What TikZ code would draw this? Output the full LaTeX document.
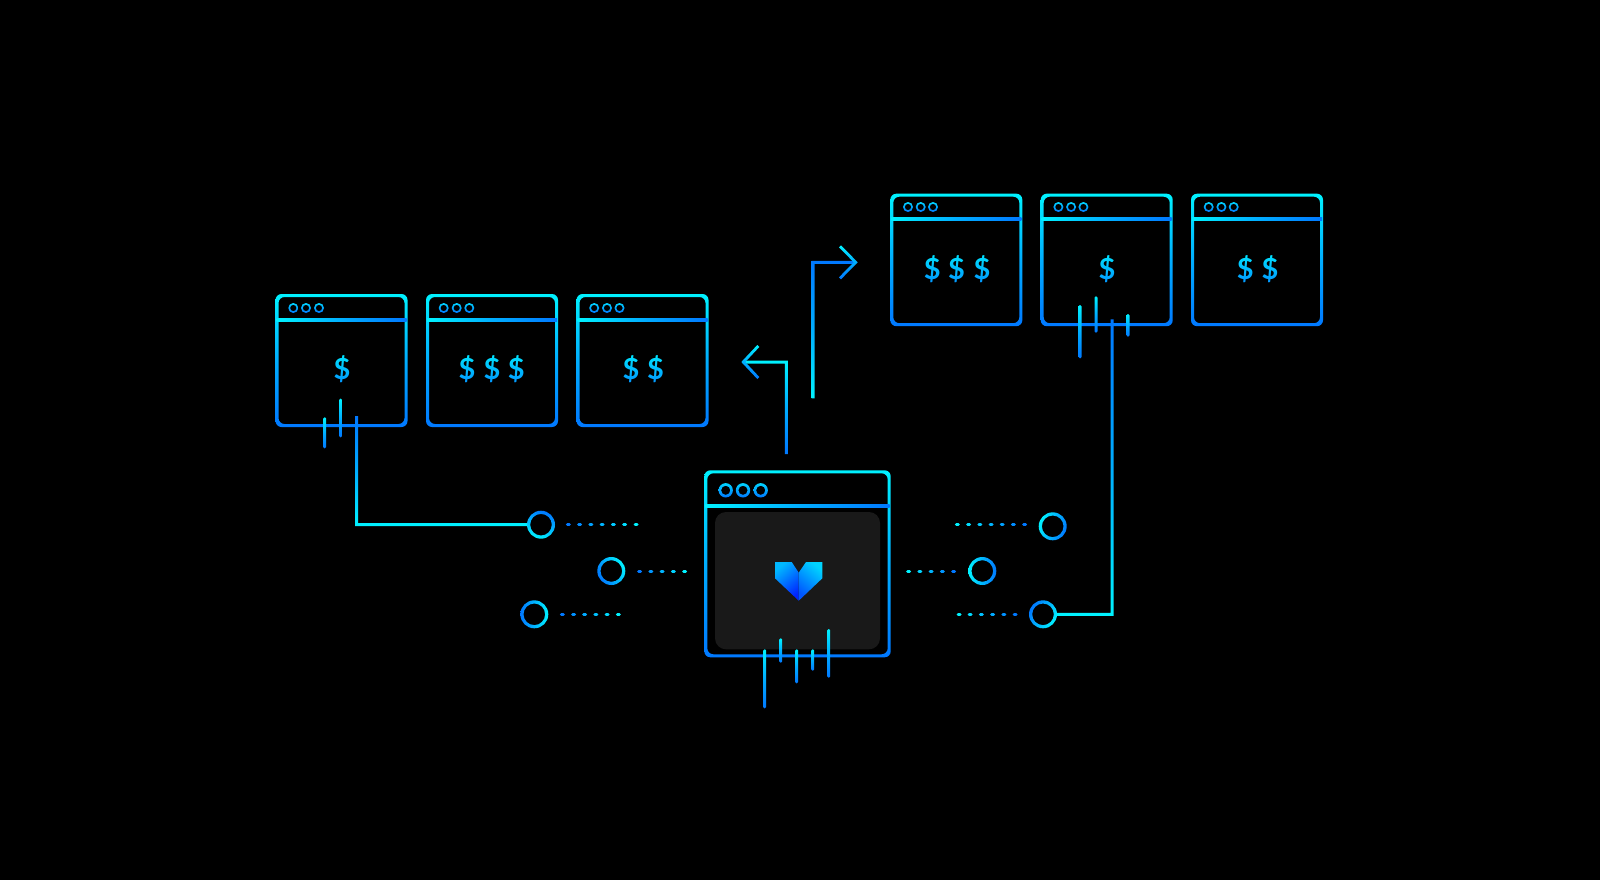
\documentclass[tikz,border=0pt]{standalone}
\usepackage{fontspec}
\setmainfont{Lato}
\usetikzlibrary{calc}
\definecolor{cy}{HTML}{00F2FF}
\definecolor{bl}{HTML}{0078FF}
\definecolor{midc}{HTML}{00AEFF}
\definecolor{panel}{HTML}{191919}
\definecolor{dtop}{HTML}{00E6FF}
\definecolor{dbot}{HTML}{0090FF}
\tikzset{
  anchorbox/.style={rectangle,inner sep=0pt,outer sep=0pt},
  ringanchor/.style={circle,inner sep=0pt,outer sep=0pt,minimum size=28pt},
  vgrad/.style={top color=cy,bottom color=bl,middle color=midc},
  vgradup/.style={top color=bl,bottom color=cy,middle color=midc},
  hgrad/.style={left color=cy,right color=bl,middle color=midc},
  dollar/.style={text=white,font=\bfseries\fontsize{29}{29}\selectfont,inner sep=0pt,anchor=center},
  dollarshade/.style={top color=dtop,bottom color=dbot},
}
% window: name, left, top, width, height, title y offset, stroke
\newcommand{\winbox}[7]{%
  \node[anchorbox,minimum width=#4pt,minimum height=#5pt,anchor=north west] (#1) at (#2,#3) {};
  \shade[vgrad,even odd rule,rounded corners=6pt]
    (#1.north west) rectangle (#1.south east)
    ($(#1.north west)+(#7,#7)$) rectangle ($(#1.south east)+(-#7,-#7)$);
  \shade[hgrad] ($(#1.north west)+(1,#6-1.4)$) rectangle ($(#1.north east)+(-1,#6+1.4)$);
}
% ring: name, x, y, direction of the cyan side
\newcommand{\ringat}[4]{%
  \node[ringanchor] (#1) at (#2,#3) {};
  \pgfmathsetmacro{\ang}{#4-90}
  \shade[top color=cy,bottom color=bl,shading angle=\ang,even odd rule]
    (#1) circle (14) (#1) circle (10.8);
}
% small title ring: x, y, radius, stroke
\newcommand{\ttl}[4]{%
  \shade[top color=00d,bottom color=bl,even odd rule] (#1,#2) circle (#3) (#1,#2) circle (#3-#4);
}
% tick: name, x, y0, y1
\newcommand{\tick}[4]{%
  \coordinate (#1a) at (#2,#3); \coordinate (#1b) at (#2,#4);
  \shade[vgrad,rounded corners=1.3pt] ($(#1a)+(-1.5,0)$) rectangle ($(#1b)+(1.5,0)$);
}
% dots: x0, x1, y, count, left-cyan percent, right-cyan percent
\newcommand{\dotrow}[6]{%
  \foreach \i in {1,...,#4}{
    \pgfmathsetmacro{\t}{(\i-1)/(#4-1)}
    \pgfmathsetmacro{\p}{#5+(#6-#5)*\t}
    \pgfmathsetmacro{\xx}{#1+(#2-#1)*\t}
    \colorlet{dotc}{cy!\p!bl}
    \draw[dotc,line width=3pt,line cap=round] (\xx-1,#3) -- (\xx+1,#3);
  }
}
\begin{document}
\begin{tikzpicture}[x=1pt,y=-1pt]
\definecolor{00d}{HTML}{00D4FF}
\useasboundingbox (0,0) rectangle (1600,880);
\fill[black] (0,0) rectangle (1600,880);

% lower row of windows
\winbox{wa}{275.5}{294}{132}{133}{26}{3}
\winbox{wb}{426}{294}{132}{133}{26}{3}
\winbox{wc}{576.5}{294}{132}{133}{26}{3}
% upper row
\winbox{wd}{890.3}{193.7}{132}{132.5}{25.6}{3}
\winbox{we}{1040.7}{193.7}{132}{132.5}{25.6}{3}
\winbox{wf}{1191}{193.7}{132}{132.5}{25.6}{3}

\foreach \x in {293.3,306,319,443.7,456.7,469.3,594.2,607,619.5}{\ttl{\x}{308}{5}{1.8}}
\foreach \x in {908,920.7,933,1058.4,1071.1,1083.4,1208.7,1221.4,1233.7}{\ttl{\x}{207}{5}{1.8}}

% dollars
\node[dollar] (da) at (342,369.5) {\$};
\node[dollar] (db1) at (467,369.5) {\$};
\node[dollar] (db2) at (492,369.5) {\$};
\node[dollar] (db3) at (516.3,369.5) {\$};
\node[dollar] (dc1) at (631,369.5) {\$};
\node[dollar] (dc2) at (655.6,369.5) {\$};
\node[dollar] (dd1) at (932.3,269) {\$};
\node[dollar] (dd2) at (956.5,269) {\$};
\node[dollar] (dd3) at (982,269) {\$};
\node[dollar] (de) at (1107,269) {\$};
\node[dollar] (df1) at (1245.3,269) {\$};
\node[dollar] (df2) at (1270,269) {\$};
\begin{scope}[blend mode=multiply]
  \shade[dollarshade] (330,354) rectangle (354,385);
  \shade[dollarshade] (455,354) rectangle (528,385);
  \shade[dollarshade] (619,354) rectangle (667,385);
  \shade[dollarshade] (920,253) rectangle (994,285);
  \shade[dollarshade] (1095,253) rectangle (1119,285);
  \shade[dollarshade] (1233,253) rectangle (1282,285);
\end{scope}

% main window
\node[anchorbox,minimum width=165pt,minimum height=137.3pt,anchor=north west,fill=panel,rounded corners=11pt] (panelbox) at (715,512) {};
\winbox{wm}{704.3}{470.3}{186.4}{187}{35.4}{3}
\foreach \x in {725.7,743,760.7}{\ttl{\x}{490.3}{7.2}{2.6}}

% heart
\coordinate (hn) at (798.7,572.7);
\coordinate (hb) at (798.7,600.7);
\shade[top color=00d!70!bl,bottom color=blue!70!bl,shading angle=40]
  (775,562) -- (791.7,562) -- (hn) -- (hb) -- (775,578.3) -- cycle;
\shade[top color=00d,bottom color=bl!70!blue,shading angle=-40]
  (hn) -- (806,562) -- (822.3,562) -- (822.3,578.3) -- (hb) -- cycle;

% main window ticks
\tick{m1}{764.7}{649.3}{708.3}
\tick{m2}{780.7}{638.3}{662.7}
\tick{m3}{796.7}{649.3}{683.3}
\tick{m4}{812.7}{649.3}{670.7}
\tick{m5}{828.7}{629}{677.7}

% window ticks
\tick{a1}{324.7}{417.3}{448.3}
\tick{a2}{340.7}{398.7}{437.3}
\tick{e1}{1080}{305}{358.3}
\tick{e2}{1096}{296.3}{332.7}
\tick{e3}{1128}{314}{336.7}

% rings and dotted runs
\ringat{ra}{541}{524.7}{250}
\ringat{rb}{611.3}{571}{30}
\ringat{rc}{534.3}{614.3}{0}
\ringat{rd}{1052.7}{526.3}{160}
\ringat{re}{982.3}{571}{180}
\ringat{rf}{1043}{614.3}{-30}
\dotrow{568.3}{636}{524.7}{7}{0}{100}
\dotrow{639.7}{684.7}{571}{5}{0}{100}
\dotrow{562.3}{618.3}{614.3}{6}{0}{100}
\dotrow{957.3}{1024.7}{524.7}{7}{100}{0}
\dotrow{908.7}{953.7}{571}{5}{100}{0}
\dotrow{959}{1015}{614.3}{6}{100}{0}

% elbow connectors
\coordinate (ca) at (356.7,416);
\coordinate (cb) at (1112,319.3);
\shade[vgradup] ($(ca)+(-1.5,0)$) -- ($(ca)+(1.5,0)$) -- ($(ca |- ra.west)+(1.5,-1.5)$) -- ($(ra.west)+(0,-1.5)$)
  -- ($(ra.west)+(0,1.5)$) -- ($(ca |- ra.west)+(-1.5,1.5)$) -- cycle;
\shade[vgradup] ($(cb)+(-1.5,0)$) -- ($(cb)+(1.5,0)$) -- ($(cb |- rf.east)+(1.5,1.5)$) -- ($(rf.east)+(0,1.5)$)
  -- ($(rf.east)+(0,-1.5)$) -- ($(cb |- rf.east)+(-1.5,-1.5)$) -- cycle;

% up-right arrow
\coordinate (ua) at (813,398.3);
\coordinate (ut) at (855.5,262.3);
\shade[vgradup] ($(ua)+(-1.5,0)$) -- ($(ua)+(1.5,0)$) -- ($(ua |- ut)+(1.5,1.5)$) -- ($(ut)+(-1,1.5)$)
  -- ($(ut)+(-1,-1.5)$) -- ($(ua |- ut)+(-1.5,-1.5)$) -- cycle;
\shade[vgrad] (839,247.3) -- (841,245.3) -- (857.7,262.3) -- (841,279.3) -- (839,277.3) -- (853.7,262.3) -- cycle;

% up-left arrow
\coordinate (la) at (786.3,454);
\coordinate (lt) at (743.7,362);
\shade[vgrad] ($(la)+(-1.5,0)$) -- ($(la)+(1.5,0)$) -- ($(la |- lt)+(1.5,-1.5)$) -- ($(lt)+(1,-1.5)$)
  -- ($(lt)+(1,1.5)$) -- ($(la |- lt)+(-1.5,1.5)$) -- cycle;
\shade[vgrad] (759.3,347) -- (757.3,345) -- (741.3,362) -- (757.3,379) -- (759.3,377) -- (745.3,362) -- cycle;
\end{tikzpicture}
\end{document}
